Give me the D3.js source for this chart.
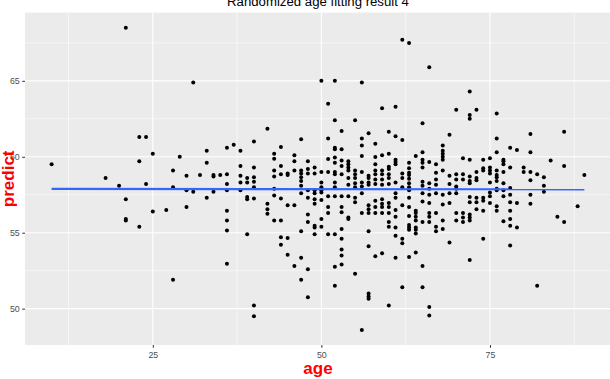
<!DOCTYPE html>
<html>
<head>
<meta charset="utf-8">
<script src="https://cdn.jsdelivr.net/npm/d3@7"></script>
<style>
  html, body { margin: 0; padding: 0; background: #ffffff; }
  svg { display: block; font-family: "Liberation Sans", Arial, sans-serif; }
</style>
</head>
<body>
<svg id="chart" width="610" height="379"></svg>
<script>
// ---------- data ----------
const chartTitle = "Randomized age fitting result 4";
const xLabel = "age";
const yLabel = "predict";
const xTicks = [25, 50, 75];
const yTicks = [50, 55, 60, 65];

// age groups and the predicted values observed at each age
const ageGroups = [10,18,20,21,23,24,25,27,28,29,30,31,32,33,34,35,36,37,38,39,40,42,43,44,45,46,47,48,49,50,51,52,53,54,55,56,57,58,59,60,61,62,63,64,65,66,67,68,69,70,71,72,73,74,75,76,77,78,79,80,81,82,83,84,85,86,88,89];
const predictGroups = [
  [59.5],
  [58.6],
  [58.1],
  [68.5, 57.2, 55.9, 55.8],
  [61.3, 59.7, 55.4],
  [61.3, 58.2],
  [60.2, 56.4],
  [56.5],
  [59.1, 58.0, 51.9],
  [60.0],
  [58.75, 57.8, 56.7],
  [64.9, 57.7],
  [58.8],
  [60.4, 59.6, 57.3],
  [58.8, 58.7, 57.7],
  [58.8],
  [60.6, 58.85, 58.2, 57.8, 56.45, 55.8, 55.15, 52.95],
  [60.8],
  [60.4, 59.4, 58.75, 58.3, 57.8],
  [58.6, 58.3, 57.35, 57.2, 54.9],
  [61.0, 59.3, 58.65, 58.35, 58.0, 57.25, 50.2, 49.5],
  [61.85, 56.9, 56.55, 56.25],
  [60.2, 59.87, 59.1, 58.7, 57.9, 57.45, 55.8],
  [60.65, 59.4, 58.85, 57.25, 55.8, 54.7, 54.2],
  [58.9, 58.8, 56.8, 54.65, 53.55],
  [60.1, 59.7, 59.1, 56.8, 52.8],
  [61.15, 59.1, 58.9, 58.65, 58.4, 58.1, 57.6, 55.1, 53.35, 51.9],
  [59.7, 59.2, 58.9, 57.8, 57.3, 56.2, 55.7, 52.6, 50.75],
  [59.3, 58.9, 57.8, 57.6, 57.2, 56.9, 55.45, 55.35, 54.9],
  [65.0, 59.0, 58.3, 58.0, 57.8, 57.65, 57.15, 55.9, 55.4],
  [63.5, 61.2, 59.85, 59.0, 57.4, 56.7, 56.3, 54.9],
  [65.0, 62.4, 60.6, 60.5, 59.95, 59.6, 59.0, 58.85, 58.3, 58.0, 57.4, 54.9, 52.75, 51.5],
  [61.7, 60.5, 59.75, 59.4, 58.85, 57.4, 56.7, 56.35, 55.25, 54.6, 53.9, 53.5, 52.9],
  [59.7, 59.5, 59.3, 59.1, 58.6, 58.15, 57.4, 56.0, 55.9],
  [62.4, 59.1, 58.85, 58.6, 58.25, 58.0, 57.3, 57.0, 52.3],
  [64.9, 61.2, 60.75, 60.05, 59.0, 58.3, 58.05, 57.6, 56.3, 48.6],
  [61.55, 58.75, 58.6, 58.3, 58.15, 56.8, 56.55, 56.3, 55.1, 54.1, 51.0, 50.8, 50.65],
  [60.85, 59.98, 59.5, 59.1, 58.85, 58.5, 58.2, 57.1, 56.7, 56.3, 53.45],
  [63.2, 60.1, 59.1, 58.85, 58.5, 58.15, 57.2, 56.9, 56.7, 56.3, 53.65],
  [61.65, 60.2, 59.35, 59.2, 58.85, 58.6, 58.2, 56.95, 56.7, 56.3, 55.7, 55.4, 50.2],
  [63.3, 61.35, 59.8, 59.65, 59.5, 58.3, 57.6, 57.3, 56.5, 56.05, 55.35, 54.8, 53.35],
  [67.7, 61.1, 58.9, 58.6, 58.0, 56.8, 54.6, 54.3, 51.4],
  [67.5, 59.6, 59.25, 58.95, 58.8, 58.55, 58.25, 58.0, 57.8, 57.3, 56.7, 56.1, 55.5, 55.35, 55.2, 53.4],
  [60.05, 56.45, 56.3, 56.05, 55.8, 55.35, 55.2, 54.95, 53.7],
  [62.2, 60.3, 59.8, 59.6, 59.3, 58.35, 58.1, 57.6, 57.05, 55.7, 52.8, 51.4],
  [65.9, 59.65, 58.25, 57.9, 57.5, 56.95, 56.3, 56.05, 55.7, 50.1, 49.55],
  [59.5, 58.95, 58.5, 58.15, 57.6, 56.3, 55.4, 55.1],
  [60.75, 60.4, 60.2, 60.0, 59.8, 59.1, 57.5, 56.85, 55.8, 55.25],
  [61.45, 58.75, 58.2, 57.6, 56.95, 54.35],
  [63.1, 58.85, 58.5, 58.05, 57.9, 57.6, 56.3, 55.8],
  [59.9, 58.85, 58.5, 56.3, 56.0, 55.7],
  [64.3, 62.75, 62.5, 59.8, 58.7, 58.4, 58.25, 57.35, 57.0, 56.2, 56.0, 55.8, 53.2],
  [63.1, 59.0, 58.6, 58.45, 57.3, 57.0, 56.55],
  [59.8, 59.25, 59.1, 57.3, 57.1, 56.45, 54.6],
  [59.9, 59.3, 59.1, 58.9, 58.3, 57.65, 57.4, 56.95],
  [62.85, 61.2, 60.3, 59.1, 58.8, 58.65, 58.4, 57.9, 57.8, 56.75, 56.45],
  [59.8, 59.7, 59.5, 59.0, 58.25, 57.8, 57.4, 55.75],
  [60.6, 59.3, 57.95, 57.5, 57.0, 56.45, 55.9, 55.45, 54.15],
  [60.45, 56.95, 55.35],
  [59.3, 59.0],
  [61.5, 60.3, 59.0, 58.45, 57.5, 56.9],
  [58.85, 51.5],
  [58.65, 58.1, 57.7],
  [59.75],
  [56.05],
  [61.65, 59.4, 55.7],
  [56.75],
  [58.8]
];

// linear fit line (end points)
const fitAge = [10, 89];
const fitPredict = [57.88, 57.86];

// ---------- build points ----------
const points = [];
ageGroups.forEach((a, i) => predictGroups[i].forEach(v => points.push({ age: a, predict: v })));

// ---------- layout ----------
const svg = d3.select("#chart");
const panel = { left: 25, right: 611, top: 12.6, bottom: 345 };

function expand(ext) {
  const pad = (ext[1] - ext[0]) * 0.05;
  return [ext[0] - pad, ext[1] + pad];
}
const x = d3.scaleLinear()
  .domain(expand(d3.extent(points, d => d.age)))
  .range([panel.left, panel.right]);
const y = d3.scaleLinear()
  .domain(expand(d3.extent(points, d => d.predict)))
  .range([panel.bottom, panel.top]);

// panel background
svg.append("rect")
  .attr("x", panel.left).attr("y", panel.top)
  .attr("width", panel.right - panel.left).attr("height", panel.bottom - panel.top)
  .attr("fill", "#EBEBEB");

// minor gridlines
const xMinor = [xTicks[0] - 12.5].concat(xTicks.map(t => t + 12.5))
  .filter(v => v > x.domain()[0] && v < x.domain()[1]);
const yMinor = [yTicks[0] - 2.5].concat(yTicks.map(t => t + 2.5))
  .filter(v => v > y.domain()[0] && v < y.domain()[1]);

const grid = svg.append("g");
grid.selectAll(".xmin").data(xMinor).join("line")
  .attr("x1", d => x(d)).attr("x2", d => x(d))
  .attr("y1", panel.top).attr("y2", panel.bottom)
  .attr("stroke", "#FFFFFF").attr("stroke-width", 0.55);
grid.selectAll(".ymin").data(yMinor).join("line")
  .attr("y1", d => y(d)).attr("y2", d => y(d))
  .attr("x1", panel.left).attr("x2", panel.right)
  .attr("stroke", "#FFFFFF").attr("stroke-width", 0.55);
grid.selectAll(".xmaj").data(xTicks).join("line")
  .attr("x1", d => x(d)).attr("x2", d => x(d))
  .attr("y1", panel.top).attr("y2", panel.bottom)
  .attr("stroke", "#FFFFFF").attr("stroke-width", 1.1);
grid.selectAll(".ymaj").data(yTicks).join("line")
  .attr("y1", d => y(d)).attr("y2", d => y(d))
  .attr("x1", panel.left).attr("x2", panel.right)
  .attr("stroke", "#FFFFFF").attr("stroke-width", 1.1);

// points
svg.append("g").selectAll("circle").data(points).join("circle")
  .attr("cx", d => x(d.age))
  .attr("cy", d => y(d.predict))
  .attr("r", 2.0)
  .attr("fill", "#000000");

// fit line
const fitData = fitAge.map((a, i) => ({ age: a, predict: fitPredict[i] }));
svg.append("path")
  .datum(fitData)
  .attr("d", d3.line().x(d => x(d.age)).y(d => y(d.predict)))
  .attr("fill", "none")
  .attr("stroke", "#3366FF")
  .attr("stroke-width", 2.2);

// axes
const xAxis = svg.append("g")
  .attr("transform", `translate(0,${panel.bottom})`)
  .call(d3.axisBottom(x).tickValues(xTicks).tickSize(2.8).tickPadding(3.5));
const yAxis = svg.append("g")
  .attr("transform", `translate(${panel.left},0)`)
  .call(d3.axisLeft(y).tickValues(yTicks).tickSize(2.8).tickPadding(2.5));
[xAxis, yAxis].forEach(g => {
  g.select(".domain").remove();
  g.selectAll(".tick line").attr("stroke", "#333333").attr("stroke-width", 1);
  g.selectAll(".tick text")
    .attr("fill", "#4D4D4D")
    .style("font-size", "8.8px")
    .style("font-family", "'Liberation Sans', Arial, sans-serif");
});

// title
svg.append("text")
  .attr("x", (panel.left + panel.right) / 2)
  .attr("y", 5.5)
  .attr("text-anchor", "middle")
  .style("font-size", "13.2px")
  .attr("fill", "#000000")
  .text(chartTitle);

// axis titles
svg.append("text")
  .attr("x", (panel.left + panel.right) / 2)
  .attr("y", 374)
  .attr("text-anchor", "middle")
  .style("font-size", "17px")
  .style("font-weight", "bold")
  .attr("fill", "#FF0000")
  .text(xLabel);

svg.append("text")
  .attr("transform", `translate(14,${(panel.top + panel.bottom) / 2}) rotate(-90)`)
  .attr("text-anchor", "middle")
  .style("font-size", "17px")
  .style("font-weight", "bold")
  .attr("fill", "#FF0000")
  .text(yLabel);
</script>
</body>
</html>
